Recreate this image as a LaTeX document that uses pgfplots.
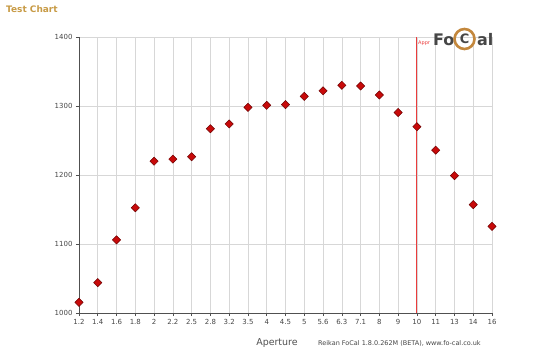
\documentclass[border=0pt]{standalone}
\usepackage{pgfplots}
\pgfplotsset{compat=1.18}
\usepackage{fontspec}
\setmainfont{DejaVu Sans}
\definecolor{titlegold}{RGB}{200,155,70}
\definecolor{gridgray}{RGB}{215,215,215}
\definecolor{axisgray}{RGB}{80,80,80}
\definecolor{labelgray}{RGB}{70,70,70}
\definecolor{markred}{RGB}{200,10,10}
\definecolor{markdark}{RGB}{110,0,0}
\definecolor{aprred}{RGB}{235,60,60}
\definecolor{logogray}{RGB}{70,70,70}
\definecolor{logoorange}{RGB}{195,135,60}
\begin{document}
\begin{tikzpicture}[x=1bp,y=1bp]
\useasboundingbox (-79,-44) rectangle (461,313);
\fill[white] (-79,-44) rectangle (461,313);
\begin{axis}[
  at={(0,0)}, anchor=south west,
  scale only axis, width=413bp, height=276bp,
  xmin=0, xmax=22, ymin=1000, ymax=1400,
  xtick={0,...,22},
  xticklabels={1.2,1.4,1.6,1.8,2,2.2,2.5,2.8,3.2,3.5,4,4.5,5,5.6,6.3,7.1,8,9,10,11,13,14,16},
  ytick={1000,1100,1200,1300,1400},
  grid=major, grid style={gridgray, line width=0.6pt},
  axis x line=bottom, axis y line=left,
  axis line style={-, axisgray, line width=0.8pt},
  tick align=outside, major tick length=3bp,
  tick style={axisgray, line width=0.6pt},
  ticklabel style={font=\fontsize{7}{8}\selectfont, text=labelgray},
  /pgf/number format/assume math mode=true,
  /pgf/number format/1000 sep={},
  clip=false,
]
\draw[draw={rgb,255:red,235;green,60;blue,60}, line width=1pt] (axis cs:18,1000) -- (axis cs:18,1400);
\addplot[only marks, mark=square*, mark size=2.9bp,
  mark options={rotate=45, fill=markred, draw=markdark, line width=0.5pt}]
  coordinates {
  (0,1015.5) (1,1044) (2,1106) (3,1152.5) (4,1220) (5,1223) (6,1226.5)
  (7,1267) (8,1274) (9,1298) (10,1301) (11,1302) (12,1314) (13,1322)
  (14,1330) (15,1329) (16,1316) (17,1290.5) (18,1270) (19,1236)
  (20,1199) (21,1157) (22,1125.5)
  };
\end{axis}
% title
\node[anchor=west, inner sep=0, text=titlegold, font=\fontsize{9}{10}\selectfont\bfseries] at (-73,304) {Test Chart};
% axis label and credit
\node[inner sep=0, text=axisgray, font=\fontsize{9.5}{10}\selectfont] at (198,-30) {Aperture};
\node[anchor=west, inner sep=0, text=labelgray, font=\fontsize{6.5}{7}\selectfont] at (239,-30) {Reikan FoCal 1.8.0.262M (BETA), www.fo-cal.co.uk};
% Appr text and logo
\node[anchor=west, inner sep=0, text=aprred, font=\fontsize{5}{6}\selectfont] at (339,270) {Appr};
\node[anchor=base west, inner sep=0, text=logogray, font=\fontsize{16}{16}\selectfont\bfseries] at (354,268) {Fo};
\draw[logoorange, line width=2.6pt] (385.5,274) circle (10bp);
\node[inner sep=0, text=logogray, font=\fontsize{13}{13}\selectfont\bfseries] at (385.5,274) {C};
\node[anchor=base west, inner sep=0, text=logogray, font=\fontsize{16}{16}\selectfont\bfseries] at (398,268) {al};
\end{tikzpicture}
\end{document}
